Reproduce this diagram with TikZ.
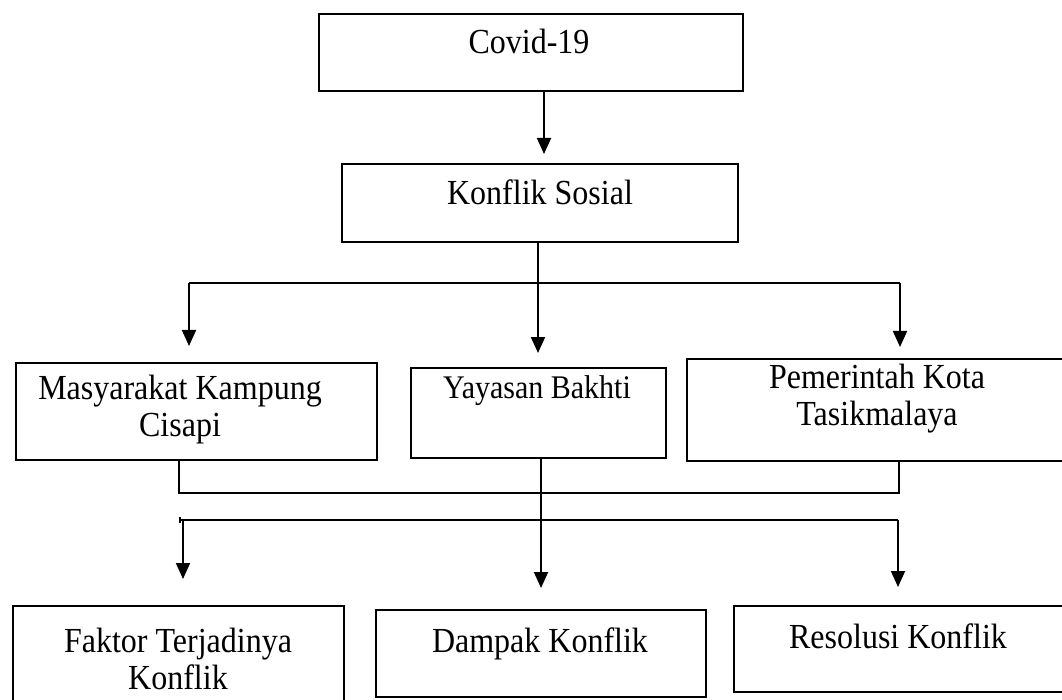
\documentclass[tikz,border=0pt]{standalone}
\usepackage{fontspec}
\setmainfont{Liberation Serif}
\usetikzlibrary{arrows.meta}
\begin{document}
\begin{tikzpicture}[x=1pt,y=-1pt,
  box/.style={draw=black,line width=1.8pt,anchor=north west,inner sep=0pt},
  txt/.style={inner sep=0pt,anchor=base,align=center,yscale=1.1,transform shape,font=\fontsize{32}{33}\selectfont},
  conn/.style={line width=1.8pt},
  arr/.style={line width=1.8pt,-{Triangle[length=16pt,width=14pt]}}]
\useasboundingbox (0,0) rectangle (1062,700);
% boxes
\node[box,minimum width=424pt,minimum height=77pt] (covid) at (318,13) {};
\node[box,minimum width=396pt,minimum height=78pt] (konflik) at (341,163) {};
\node[box,minimum width=361pt,minimum height=97pt] (masy) at (15,362) {};
\node[box,minimum width=255pt,minimum height=90pt] (yay) at (410,367) {};
\node[box,minimum width=378pt,minimum height=102pt] (pem) at (686,358) {};
\node[box,minimum width=331pt,minimum height=100pt] (fak) at (12,605) {};
\node[box,minimum width=330pt,minimum height=87pt] (dam) at (375,609) {};
\node[box,minimum width=332pt,minimum height=86pt] (res) at (733,605) {};
% texts
\node[txt] (tcovid) at (529,54) {Covid-19};
\node[txt] (tkonflik) at (540,205) {Konflik Sosial};
\node[txt] (tmasy) at (180,436) {Masyarakat Kampung\\Cisapi};
\node[txt,font=\fontsize{30}{33}\selectfont] (tyay) at (537,398) {Yayasan Bakhti};
\node[txt] (tpem) at (877,425) {Pemerintah Kota\\Tasikmalaya};
\node[txt] (tfak) at (178,689) {Faktor Terjadinya\\Konflik};
\node[txt] (tdam) at (540,652) {Dampak Konflik};
\node[txt] (tres) at (898,648) {Resolusi Konflik};
% connector points
\coordinate (c1) at (544,154);
\coordinate (k1) at (538,353);
\coordinate (b1l) at (189,283);
\coordinate (b1r) at (900,283);
\coordinate (a1l) at (189,346);
\coordinate (a1r) at (900,347);
\coordinate (m1) at (179,493);
\coordinate (p1) at (899,493);
\coordinate (y1) at (541,588);
\coordinate (b2l) at (180,520);
\coordinate (b2r) at (898,520);
\coordinate (a2l) at (183,579);
\coordinate (a2r) at (898,587);
% connectors
\draw[arr] (covid.south -| c1) -- (c1);
\draw[arr] (konflik.south -| k1) -- (k1);
\draw[conn] (b1l) -- (b1r);
\draw[arr] (b1l) -- (a1l);
\draw[arr] (b1r) -- (a1r);
\draw[conn] (masy.south -| m1) -- (m1) -- (p1) -- (pem.south -| p1);
\draw[arr] (yay.south -| y1) -- (y1);
\draw[conn] (b2l) -- (b2r);
\draw[conn] ([yshift=-3pt]b2l) -- ([yshift=3pt]b2l);
\draw[arr] (b2l -| a2l) -- (a2l);
\draw[arr] (b2r) -- (a2r);
\end{tikzpicture}
\end{document}
